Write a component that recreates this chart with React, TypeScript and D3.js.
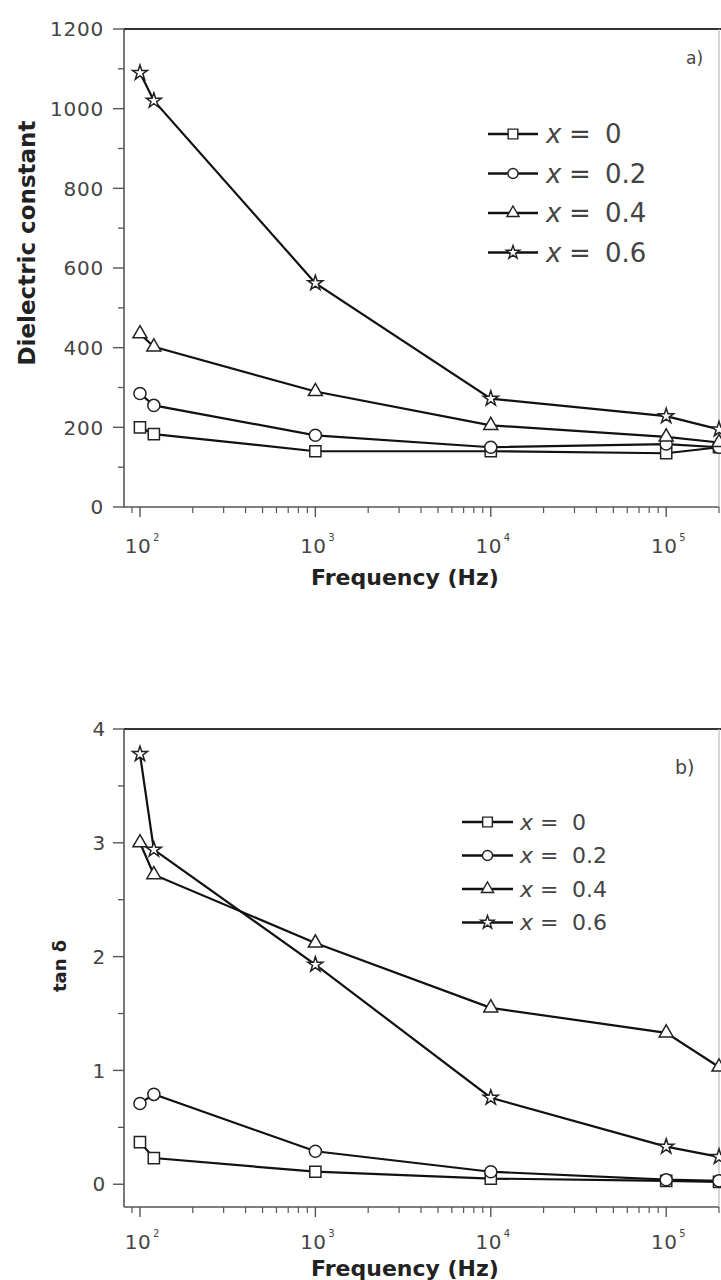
import React from "react";
import * as d3 from "d3";

// ---------- data ----------
const FREQ = [100, 120, 1000, 10000, 100000, 200000];
const SERIES_X = ["0", "0.2", "0.4", "0.6"];
const SHAPES = ["square", "circle", "triangle", "star"];

// Dielectric constant (panel a)
const EPS_X0 = [200, 183, 140, 140, 135, 150];
const EPS_X02 = [285, 255, 180, 150, 158, 150];
const EPS_X04 = [435, 402, 290, 205, 176, 162];
const EPS_X06 = [1090, 1020, 562, 272, 228, 195];

// tan delta (panel b)
const TAN_X0 = [0.37, 0.23, 0.11, 0.05, 0.03, 0.02];
const TAN_X02 = [0.71, 0.79, 0.29, 0.11, 0.04, 0.03];
const TAN_X04 = [3.0, 2.72, 2.12, 1.55, 1.33, 1.03];
const TAN_X06 = [3.78, 2.94, 1.93, 0.76, 0.33, 0.24];

const EPS_TICKS = [0, 200, 400, 600, 800, 1000, 1200];
const EPS_MINOR = [100, 300, 500, 700, 900, 1100];
const TAN_TICKS = [0, 1, 2, 3, 4];
const TAN_MINOR = [0.5, 1.5, 2.5, 3.5];
const FREQ_EXPONENTS = [2, 3, 4, 5];

const FONT = "'DejaVu Sans', Verdana, sans-serif";
const AXIS_COLOR = "#555";
const LABEL_COLOR = "#444";

const symbolFor = (shape: string, size: number) => {
  const t =
    shape === "square"
      ? d3.symbolSquare
      : shape === "circle"
      ? d3.symbolCircle
      : shape === "triangle"
      ? d3.symbolTriangle
      : d3.symbolStar;
  return d3.symbol().type(t).size(size)() as string;
};
const SYM_SIZE: Record<string, number> = { square: 125, circle: 115, triangle: 85, star: 70 };
const LEG_SCALE: Record<string, number> = { square: 0.75, circle: 0.7, triangle: 0.75, star: 0.8 };

const xScaleFor = () => d3.scaleLog().domain([81.1, 200000]).range([124, 719]);

function minorLogTicks(x: d3.ScaleLogarithmic<number, number>) {
  const out: number[] = [];
  for (let e = 1; e <= 5; e++) {
    for (let m = 2; m <= 9; m++) {
      const v = m * Math.pow(10, e);
      const [a, b] = x.domain();
      if (v >= a && v <= b) out.push(v);
    }
  }
  return out;
}

type PanelProps = {
  series: number[][];
  y: d3.ScaleLinear<number, number>;
  ticks: number[];
  minor: number[];
  yTitle: string;
  yTitleX: number;
  yTitleY: number;
  yTitleSize: number;
  letter: string;
  letterPos: [number, number];
  letterSize: number;
  legend: { x: number; y0: number; dy: number; lineW: number; font: number; textX: number; eqX: number; valX: number };
  xLabelY: number;
  xTitleY: number;
  labelRight: number;
};

function Panel(p: PanelProps) {
  const x = xScaleFor();
  const [x0, x1] = x.range();
  const [yb, yt] = p.y.range();
  const line = d3
    .line<number>()
    .x((_, i) => x(FREQ[i]))
    .y((d) => p.y(d));
  return (
    <g>
      {/* frame */}
      <line x1={x0} x2={x0} y1={yt} y2={yb} stroke={AXIS_COLOR} strokeWidth={1.6} />
      <line x1={x0} x2={x1} y1={yb} y2={yb} stroke={AXIS_COLOR} strokeWidth={1.6} />
      <line x1={x0} x2={x1 + 2} y1={yt} y2={yt} stroke="#333" strokeWidth={2} />
      <line x1={x1} x2={x1} y1={yt} y2={yb} stroke="#bbb" strokeWidth={1.2} />
      {/* y ticks */}
      {p.ticks.map((t) => (
        <g key={"yt" + t}>
          <line x1={x0 - 11} x2={x0} y1={p.y(t)} y2={p.y(t)} stroke={AXIS_COLOR} strokeWidth={1.4} />
          <text
            x={p.labelRight}
            y={p.y(t)}
            dy="0.36em"
            textAnchor="end"
            fontFamily={FONT}
            fontSize={20}
            letterSpacing={0.8}
            fill={LABEL_COLOR}
          >
            {t}
          </text>
        </g>
      ))}
      {p.minor.map((t) => (
        <line key={"ym" + t} x1={x0 - 6} x2={x0} y1={p.y(t)} y2={p.y(t)} stroke={AXIS_COLOR} strokeWidth={1.3} />
      ))}
      {/* x ticks */}
      {FREQ_EXPONENTS.map((e) => {
        const v = Math.pow(10, e);
        return (
          <g key={"xt" + e}>
            <line x1={x(v)} x2={x(v)} y1={yb} y2={yb + 10} stroke={AXIS_COLOR} strokeWidth={1.4} />
            <text x={x(v) - 2} y={p.xLabelY} textAnchor="middle" fontFamily={FONT} fontSize={20} letterSpacing={0.5} fill={LABEL_COLOR}>
              10
            </text>
            <text x={x(v) + 13} y={p.xLabelY - 12} fontFamily={FONT} fontSize={10} fill={LABEL_COLOR}>
              {e}
            </text>
          </g>
        );
      })}
      {minorLogTicks(x).map((v) => (
        <line key={"xm" + v} x1={x(v)} x2={x(v)} y1={yb} y2={yb + 6} stroke={AXIS_COLOR} strokeWidth={1.2} />
      ))}
      {/* titles */}
      <text
        x={(x0 + 690) / 2 - 2}
        y={p.xTitleY}
        textAnchor="middle"
        fontFamily={FONT}
        fontWeight="bold"
        fontSize={22}
        fill="#222"
      >
        Frequency (Hz)
      </text>
      <text
        transform={`translate(${p.yTitleX},${p.yTitleY}) rotate(-90)`}
        textAnchor="middle"
        fontFamily={FONT}
        fontWeight="bold"
        fontSize={p.yTitleSize}
        fill="#222"
      >
        {p.yTitle}
      </text>
      <text x={p.letterPos[0]} y={p.letterPos[1]} fontFamily={FONT} fontSize={p.letterSize} fill={LABEL_COLOR}>
        {p.letter}
      </text>
      {/* series */}
      {p.series.map((s, si) => (
        <path key={"l" + si} d={line(s) || ""} fill="none" stroke="#111" strokeWidth={2.2} />
      ))}
      {p.series.map((s, si) =>
        s.map((v, i) => (
          <path
            key={"m" + si + "-" + i}
            d={symbolFor(SHAPES[si], SYM_SIZE[SHAPES[si]])}
            transform={`translate(${x(FREQ[i])},${p.y(v)})`}
            fill="#fff"
            stroke="#222"
            strokeWidth={1.5}
          />
        ))
      )}
      {/* legend */}
      {SERIES_X.map((lbl, i) => {
        const L = p.legend;
        const cy = L.y0 + i * L.dy;
        const cx = L.x + L.lineW / 2;
        const sh = SHAPES[i];
        return (
          <g key={"lg" + i}>
            <line x1={L.x} x2={L.x + L.lineW} y1={cy} y2={cy} stroke="#111" strokeWidth={2.4} />
            <path
              d={symbolFor(sh, SYM_SIZE[sh] * LEG_SCALE[sh])}
              transform={`translate(${cx},${cy})`}
              fill="#fff"
              stroke="#222"
              strokeWidth={1.4}
            />
            <text x={L.textX} y={cy} dy="0.36em" fontFamily={FONT} fontSize={L.font} fill={LABEL_COLOR} fontStyle="italic">
              x
            </text>
            <text x={L.eqX} y={cy} dy="0.36em" fontFamily={FONT} fontSize={L.font} fill={LABEL_COLOR}>
              =
            </text>
            <text x={L.valX} y={cy} dy="0.36em" fontFamily={FONT} fontSize={L.font} fill={LABEL_COLOR}>
              {lbl}
            </text>
          </g>
        );
      })}
    </g>
  );
}

export default function App() {
  const yA = d3.scaleLinear().domain([0, 1200]).range([507, 29]);
  const yB = d3.scaleLinear().domain([-0.2, 4]).range([1207, 729]);
  return (
    <svg
      width={721}
      height={1280}
      viewBox="0 0 721 1280"
      style={{ position: "absolute", left: 0, top: 0, background: "#fff", display: "block" }}
    >
      <rect x={0} y={0} width={721} height={1280} fill="#fff" />
      <Panel
        series={[EPS_X0, EPS_X02, EPS_X04, EPS_X06]}
        y={yA}
        ticks={EPS_TICKS}
        minor={EPS_MINOR}
        yTitle="Dielectric constant"
        yTitleX={35}
        yTitleY={243}
        yTitleSize={23}
        letter="a)"
        letterPos={[686, 64]}
        letterSize={17}
        legend={{ x: 488, y0: 134, dy: 39.5, lineW: 50, font: 26, textX: 546, eqX: 569, valX: 605 }}
        xLabelY={553}
        xTitleY={585}
        labelRight={104}
      />
      <Panel
        series={[TAN_X0, TAN_X02, TAN_X04, TAN_X06]}
        y={yB}
        ticks={TAN_TICKS}
        minor={TAN_MINOR}
        yTitle="tan δ"
        yTitleX={66}
        yTitleY={966}
        yTitleSize={18}
        letter="b)"
        letterPos={[675, 774]}
        letterSize={19}
        legend={{ x: 462, y0: 822, dy: 33.5, lineW: 51, font: 22, textX: 520, eqX: 540, valX: 572 }}
        xLabelY={1249}
        xTitleY={1276}
        labelRight={106}
      />
    </svg>
  );
}
